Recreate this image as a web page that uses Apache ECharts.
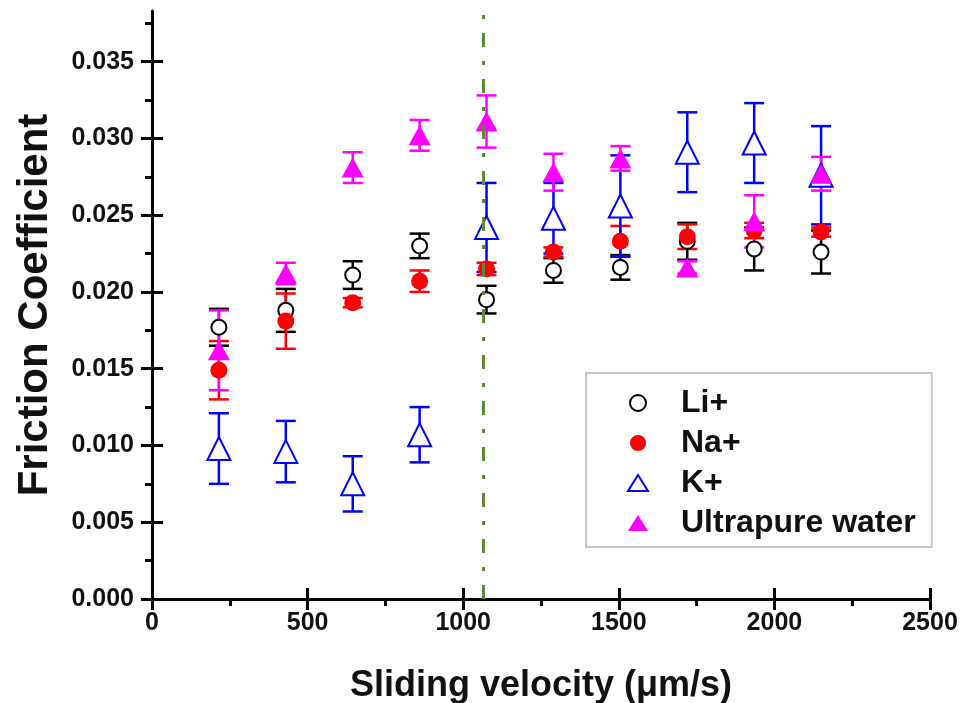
<!DOCTYPE html>
<html>
<head>
<meta charset="utf-8">
<script src="https://cdn.jsdelivr.net/npm/echarts@6/dist/echarts.min.js"></script>
<style>
  html, body { margin: 0; padding: 0; background: #fff; }
  #chart { width: 962px; height: 703px; }
</style>
</head>
<body>
<div id="chart"></div>
<script>
// ---- Data ----
const velocity = [215, 430, 645, 860, 1075, 1290, 1505, 1720, 1935, 2150];

const liMean = [0.0177, 0.0188, 0.0211, 0.0230, 0.0195, 0.0214, 0.0216, 0.0233, 0.0228, 0.0226];
const liErr  = [0.0012, 0.0014, 0.0009, 0.0008, 0.0009, 0.0008, 0.0008, 0.0012, 0.0014, 0.0014];

const naMean = [0.0149, 0.0181, 0.0193, 0.0207, 0.0215, 0.0226, 0.0233, 0.0236, 0.0240, 0.0239];
const naErr  = [0.0019, 0.0018, 0.0003, 0.0007, 0.0004, 0.0003, 0.0010, 0.0008, 0.0005, 0.0003];

const kMean = [0.0098, 0.0096, 0.0075, 0.0107, 0.0242, 0.0248, 0.0256, 0.0291, 0.0297, 0.0276];
const kErr  = [0.0023, 0.0020, 0.0018, 0.0018, 0.0029, 0.0023, 0.0033, 0.0026, 0.0026, 0.0032];

const waterMean = [0.0162, 0.0212, 0.0281, 0.0302, 0.0311, 0.0278, 0.0287, 0.0216, 0.0246, 0.0277];
const waterErr  = [0.0026, 0.0007, 0.0010, 0.0010, 0.0017, 0.0012, 0.0008, 0.0004, 0.0017, 0.0011];

const seriesNames = ['Li+', 'Na+', 'K+', 'Ultrapure water'];

const thresholdVelocity = 1065;

const xTicks = [0, 500, 1000, 1500, 2000, 2500];
const xTickLabels = ['0', '500', '1000', '1500', '2000', '2500'];
const xMinorTicks = [250, 750, 1250, 1750, 2250];
const yTicks = [0, 0.005, 0.010, 0.015, 0.020, 0.025, 0.030, 0.035];
const yTickLabels = ['0.000', '0.005', '0.010', '0.015', '0.020', '0.025', '0.030', '0.035'];
const yMinorTicks = [0.0025, 0.0075, 0.0125, 0.0175, 0.0225, 0.0275, 0.0325, 0.0375];

const X_MIN = 0, X_MAX = 2500, Y_MIN = 0, Y_MAX = 0.0383;

// ---- Build options ----
const FONT = "'Liberation Sans', Arial, sans-serif";

function pairs(ys) { return velocity.map((x, i) => [x, ys[i]]); }
function errTriples(ys, es) { return velocity.map((x, i) => [x, ys[i], es[i]]); }
function labelFor(ticks, labels) {
  return function (v) {
    const i = ticks.findIndex(t => Math.abs(t - v) < 1e-9);
    return i >= 0 ? labels[i] : '';
  };
}

function errorSeries(name, ys, es, color) {
  return {
    type: 'custom',
    name: name + ' err',
    data: errTriples(ys, es),
    encode: { x: 0, y: 1 },
    silent: true,
    z: 2,
    renderItem: function (params, api) {
      const x = api.value(0), y = api.value(1), e = api.value(2);
      const top = api.coord([x, y + e]);
      const bot = api.coord([x, y - e]);
      const hw = 10;
      const st = { stroke: color, lineWidth: 2.5 };
      return {
        type: 'group',
        children: [
          { type: 'line', shape: { x1: top[0], y1: top[1], x2: bot[0], y2: bot[1] }, style: st },
          { type: 'line', shape: { x1: top[0] - hw, y1: top[1], x2: top[0] + hw, y2: top[1] }, style: st },
          { type: 'line', shape: { x1: bot[0] - hw, y1: bot[1], x2: bot[0] + hw, y2: bot[1] }, style: st }
        ]
      };
    }
  };
}

const axisLabelStyle = { fontFamily: FONT, fontWeight: 'bold', fontSize: 25, color: '#111' };
const tickLine = { color: '#000', width: 3 };

function extraAxis(min, max, pos, values, inside, len) {
  return {
    type: 'value', min: min, max: max, position: pos,
    axisLine: { show: false },
    axisTick: { show: true, inside: inside, length: len, lineStyle: tickLine, customValues: values },
    axisLabel: { show: false },
    splitLine: { show: false }
  };
}

const option = {
  animation: false,
  backgroundColor: '#fff',
  grid: { left: 152, right: 32, top: 11, bottom: 104, containLabel: false, outerBoundsMode: 'none' },
  legend: {
    data: seriesNames,
    orient: 'vertical',
    left: 586,
    top: 373,
    padding: [14, 16, 8, 41],
    itemGap: 8,
    itemWidth: 20,
    itemHeight: 16,
    borderColor: '#c8c8c8',
    borderWidth: 2,
    backgroundColor: '#fff',
    textStyle: { fontFamily: FONT, fontWeight: 'bold', fontSize: 32, color: '#111', lineHeight: 30, padding: [0, 0, 0, 28] }
  },
  xAxis: [
    {
      type: 'value', min: X_MIN, max: X_MAX, interval: 500,
      name: 'Sliding velocity (μm/s)', nameLocation: 'middle', nameGap: 69,
      nameTextStyle: { fontFamily: FONT, fontWeight: 'bold', fontSize: 36, color: '#111' },
      axisLine: { show: true, onZero: false, lineStyle: { color: '#000', width: 3 } },
      axisTick: { show: true, inside: false, length: 11, lineStyle: tickLine, customValues: xTicks },
      axisLabel: Object.assign({ margin: 12, customValues: xTicks, formatter: labelFor(xTicks, xTickLabels) }, axisLabelStyle),
      splitLine: { show: false }
    },
    extraAxis(X_MIN, X_MAX, 'bottom', xTicks, true, 11),
    extraAxis(X_MIN, X_MAX, 'bottom', xMinorTicks, false, 7)
  ],
  yAxis: [
    {
      type: 'value', min: Y_MIN, max: Y_MAX,
      name: 'Friction Coefficient', nameLocation: 'middle', nameGap: 96,
      nameTextStyle: { fontFamily: FONT, fontWeight: 'bold', fontSize: 42, color: '#111' },
      axisLine: { show: true, onZero: false, lineStyle: { color: '#000', width: 3 } },
      axisTick: { show: true, inside: false, length: 11, lineStyle: tickLine, customValues: yTicks },
      axisLabel: Object.assign({ margin: 18, customValues: yTicks, formatter: labelFor(yTicks, yTickLabels) }, axisLabelStyle),
      splitLine: { show: false }
    },
    extraAxis(Y_MIN, Y_MAX, 'left', yTicks, true, 11),
    extraAxis(Y_MIN, Y_MAX, 'left', yMinorTicks, false, 7)
  ],
  series: [
    errorSeries('Li+', liMean, liErr, '#000000'),
    {
      type: 'scatter', name: 'Li+', data: pairs(liMean), z: 3,
      symbol: 'emptyCircle', symbolSize: 15,
      itemStyle: { color: '#000000', borderColor: '#000000', borderWidth: 2.5, opacity: 1 },
      markLine: {
        silent: true, symbol: 'none', label: { show: false },
        lineStyle: { color: '#5b8a35', width: 3, type: [14, 14, 4, 14] },
        data: [{ xAxis: thresholdVelocity }]
      }
    },
    errorSeries('Na+', naMean, naErr, '#ff0000'),
    {
      type: 'scatter', name: 'Na+', data: pairs(naMean), z: 3,
      symbol: 'circle', symbolSize: 17,
      itemStyle: { color: '#ff0000', opacity: 1 }
    },
    errorSeries('K+', kMean, kErr, '#0000ff'),
    {
      type: 'scatter', name: 'K+', data: pairs(kMean), z: 3,
      symbol: 'emptyTriangle', symbolSize: 23,
      itemStyle: { color: '#0000ff', borderColor: '#0000ff', borderWidth: 2.8, opacity: 1 }
    },
    errorSeries('Ultrapure water', waterMean, waterErr, '#ff00ff'),
    {
      type: 'scatter', name: 'Ultrapure water', data: pairs(waterMean), z: 3,
      symbol: 'triangle', symbolSize: [22, 20],
      itemStyle: { color: '#ff00ff', opacity: 1 }
    }
  ]
};

const chart = echarts.init(document.getElementById('chart'), null, { renderer: 'canvas' });
chart.setOption(option);
</script>
</body>
</html>
